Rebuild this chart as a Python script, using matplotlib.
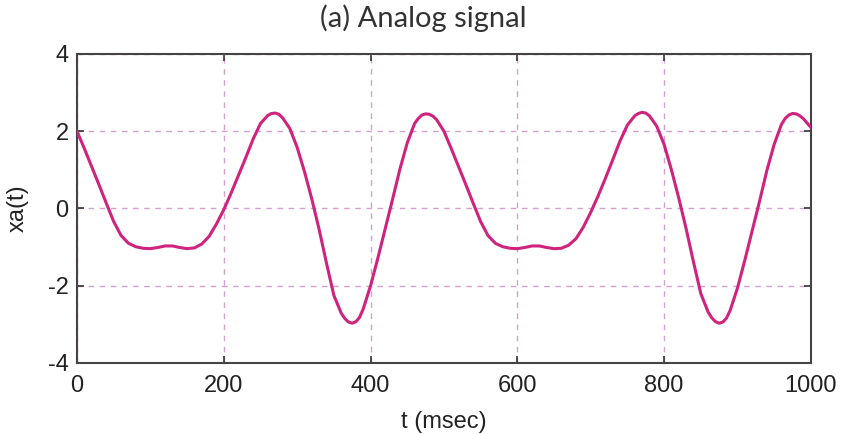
import matplotlib

matplotlib.use('Agg')

import matplotlib.pyplot as plt

# values (t in msec)
t_msec = [0, 10, 20, 30, 40, 50, 60, 70, 80, 90,
          100, 110, 120, 130, 140, 150, 160, 170, 180, 190,
          200, 210, 220, 230, 240, 250, 260, 265, 270, 275,
          280, 290, 300, 310, 320, 330, 340, 350, 360, 365,
          370, 375, 380, 385, 390, 400, 410, 420, 430, 440,
          450, 460, 465, 470, 475, 480, 485, 490, 500,
          510, 520, 530, 540, 550, 560, 570, 580, 590,
          600, 610, 620, 630, 640, 650, 660, 670, 680, 690,
          700, 710, 720, 730, 740, 750, 760, 765, 770, 775,
          780, 790, 800, 810, 820, 830, 840, 850, 860, 865,
          870, 875, 880, 885, 890, 900, 910, 920, 930, 940,
          950, 960, 965, 970, 975, 980, 985, 990, 1000]

xa = [2.00, 1.55, 1.08, 0.61, 0.13, -0.34, -0.70, -0.90, -0.99, -1.03,
      -1.04, -1.01, -0.97, -0.97, -1.01, -1.04, -1.02, -0.92, -0.72, -0.40,
      -0.03, 0.40, 0.86, 1.32, 1.80, 2.20, 2.41, 2.46, 2.47, 2.44,
      2.35, 2.07, 1.58, 0.95, 0.24, -0.55, -1.42, -2.25, -2.71, -2.85,
      -2.94, -2.97, -2.93, -2.82, -2.60, -2.00, -1.28, -0.52, 0.24, 1.02,
      1.70, 2.20, 2.33, 2.42, 2.45, 2.44, 2.39, 2.30, 2.00,
      1.55, 1.08, 0.61, 0.13, -0.34, -0.70, -0.90, -0.99, -1.03,
      -1.04, -1.01, -0.97, -0.97, -1.01, -1.04, -1.03, -0.95, -0.78, -0.48,
      -0.10, 0.32, 0.78, 1.26, 1.75, 2.16, 2.40, 2.46, 2.49, 2.47,
      2.40, 2.13, 1.66, 1.00, 0.27, -0.52, -1.38, -2.20, -2.68, -2.83,
      -2.93, -2.97, -2.94, -2.84, -2.64, -2.06, -1.34, -0.58, 0.18, 0.98,
      1.66, 2.18, 2.33, 2.42, 2.46, 2.45, 2.40, 2.32, 2.10]

x_ticks = [0, 200, 400, 600, 800, 1000]
y_ticks = [-4, -2, 0, 2, 4]

tick_font = ['Liberation Sans', 'DejaVu Sans']

fig = plt.figure(figsize=(8.42, 4.34), dpi=100)
ax = fig.add_axes([0.0915, 0.1636, 0.8715, 0.712])

ax.plot(t_msec, xa, color='#d0237d', lw=2.2, zorder=3, solid_joinstyle='round')

ax.set_xlim(0, 1000)
ax.set_ylim(-4, 4)
ax.set_xticks(x_ticks)
ax.set_yticks(y_ticks)
ax.set_xticklabels([str(v) for v in x_ticks], family=tick_font, fontsize=17, color='#222222')
ax.set_yticklabels([str(v) for v in y_ticks], family=tick_font, fontsize=17, color='#222222')

ax.grid(True, color='#d4a0cc', linestyle=(0, (4, 4)), lw=1.0, zorder=0)
ax.tick_params(axis='x', direction='in', length=5, width=1.2, top=True,
               color='#333333', pad=9)
ax.tick_params(axis='y', direction='in', length=5, width=1.2, right=True,
               color='#333333', pad=6)
for sp in ax.spines.values():
    sp.set_linewidth(1.5)
    sp.set_color('#444444')

ax.set_xlabel('t (msec)', family=tick_font, fontsize=17, color='#222222', labelpad=10)
ax.set_ylabel('xa(t)', family=tick_font, fontsize=17, color='#222222', labelpad=14)

fig.text(423 / 842, 1 - 18 / 434, '(a) Analog signal', family=['Lato', 'DejaVu Sans'],
         fontsize=21, color='#333333', ha='center', va='center')

fig.savefig('out.png', dpi=100, facecolor='white')
